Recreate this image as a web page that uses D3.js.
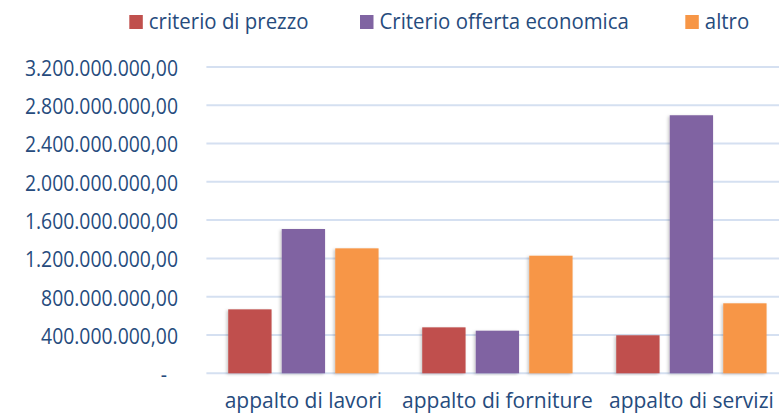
<!DOCTYPE html>
<html>
<head>
<meta charset="utf-8">
<script src="https://cdn.jsdelivr.net/npm/d3@7"></script>
<style>
  body { margin: 0; background: #fff; }
  text { font-family: "Open Sans", sans-serif; fill: #264B7D; }
</style>
</head>
<body>
<div id="chart"></div>
<script>
var width = 779;
var height = 416;

var categories = ["appalto di lavori", "appalto di forniture", "appalto di servizi"];
var seriesNames = ["criterio di prezzo", "Criterio offerta economica", "altro"];
var prezzo = [668000000, 480000000, 397000000];
var offerta = [1507000000, 445000000, 2695000000];
var altro = [1305000000, 1228000000, 731000000];
var yTicks = [0, 400000000, 800000000, 1200000000, 1600000000, 2000000000, 2400000000, 2800000000, 3200000000];
var colors = ["#C0504D", "#8064A2", "#F79646"];

var series = [prezzo, offerta, altro];

var itLocale = d3.formatLocale({ decimal: ",", thousands: ".", grouping: [3], currency: ["", "€"] });
var fmt = itLocale.format(",.2f");

var svg = d3.select("#chart").append("svg")
    .attr("width", width)
    .attr("height", height);

var defs = svg.append("defs");
var shadow = defs.append("filter").attr("id", "shadow")
    .attr("x", "-20%").attr("y", "-5%").attr("width", "140%").attr("height", "110%");
shadow.append("feDropShadow")
    .attr("dx", -1.5).attr("dy", 1).attr("stdDeviation", 1.8)
    .attr("flood-color", "#000").attr("flood-opacity", 0.22);

// the chart's plot area runs past the right edge of the picture
var plotLeft = 206.4, groupStep = 194;
var yScale = d3.scaleLinear().domain([0, 3200000000]).range([373.3, 66.9]);
var xScale = d3.scaleBand().domain(categories).range([plotLeft, plotLeft + groupStep * categories.length]);
var xInner = d3.scaleBand().domain(d3.range(series.length))
    .range([0, xScale.bandwidth()]).paddingInner(0.19).paddingOuter(0.408);

// gridlines
svg.append("g").selectAll("line")
    .data(yTicks)
    .enter().append("line")
    .attr("x1", plotLeft)
    .attr("x2", width)
    .attr("y1", d => yScale(d))
    .attr("y2", d => yScale(d))
    .attr("stroke", "#D5E0F1")
    .attr("stroke-width", 2);

// y labels (squeezed a little to look like Calibri)
svg.append("g").selectAll("text")
    .data(yTicks)
    .enter().append("text")
    .attr("transform", d => `translate(${d === 0 ? 167 : 178},${yScale(d)}) scale(0.88,1)`)
    .attr("dy", "0.4em")
    .attr("text-anchor", "end")
    .attr("font-size", 22)
    .text(d => d === 0 ? "-" : fmt(d));

// bars
var groups = svg.append("g").selectAll("g")
    .data(categories)
    .enter().append("g")
    .attr("transform", d => `translate(${xScale(d)},0)`);

groups.selectAll("rect")
    .data((d, i) => series.map((s, j) => ({ value: s[i], idx: j })))
    .enter().append("rect")
    .attr("x", d => xInner(d.idx))
    .attr("width", xInner.bandwidth())
    .attr("y", d => yScale(d.value))
    .attr("height", d => yScale(0) - yScale(d.value))
    .attr("fill", d => colors[d.idx])
    .attr("filter", "url(#shadow)");

// x labels
svg.append("g").selectAll("text")
    .data(categories)
    .enter().append("text")
    .attr("x", d => xScale(d) + xScale.bandwidth() / 2)
    .attr("y", 408)
    .attr("text-anchor", "middle")
    .attr("font-size", 21)
    .text(d => d);

// legend
var legendX = [129.3, 360, 685.3];
var legend = svg.append("g").selectAll("g")
    .data(seriesNames)
    .enter().append("g")
    .attr("transform", (d, i) => `translate(${legendX[i]},0)`);

legend.append("rect")
    .attr("x", 0).attr("y", 15)
    .attr("width", 13.5).attr("height", 14)
    .attr("fill", (d, i) => colors[i]);

legend.append("text")
    .attr("transform", "translate(19.5,29) scale(0.95,1)")
    .attr("font-size", 21.5)
    .text(d => d);
</script>
</body>
</html>
